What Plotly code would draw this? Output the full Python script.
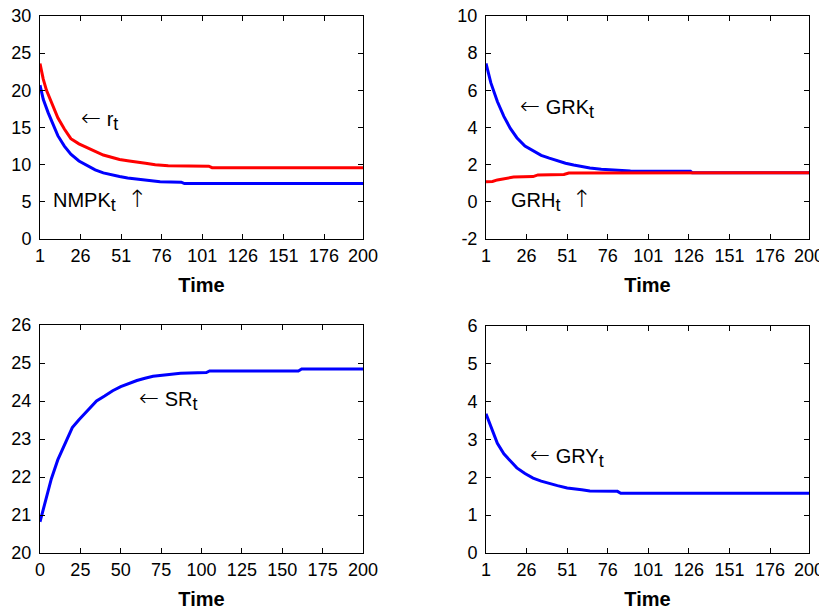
import plotly.graph_objects as go
from plotly.subplots import make_subplots

# ---- data ----
t_r = [1, 3, 5, 8, 12, 16, 20, 25, 30, 35, 40, 45, 50, 56, 61, 66, 72, 80, 105, 107, 200]
r_t = [23.6, 21.5, 20.0, 18.4, 16.3, 14.8, 13.5, 12.8, 12.3, 11.8, 11.3, 11.0, 10.7, 10.5, 10.3, 10.2, 10.0, 9.85, 9.8, 9.6, 9.6]

t_nmpk = [1, 3, 6, 9, 12, 16, 20, 25, 30, 35, 40, 45, 50, 55, 60, 65, 70, 75, 88, 90, 200]
nmpk_t = [20.7, 18.8, 17.0, 15.4, 13.9, 12.5, 11.4, 10.5, 9.9, 9.3, 8.9, 8.6, 8.4, 8.2, 8.05, 7.9, 7.8, 7.7, 7.65, 7.45, 7.45]

t_grk = [1, 4, 8, 12, 16, 20, 25, 30, 35, 40, 45, 50, 55, 60, 65, 72, 80, 90, 127, 128, 200]
grk_t = [7.45, 6.4, 5.4, 4.6, 3.95, 3.45, 3.0, 2.75, 2.5, 2.35, 2.2, 2.08, 1.98, 1.9, 1.82, 1.75, 1.72, 1.66, 1.64, 1.57, 1.57]

t_grh = [1, 5, 8, 14, 18, 30, 33, 49, 52, 200]
grh_t = [1.08, 1.1, 1.18, 1.25, 1.33, 1.36, 1.45, 1.47, 1.55, 1.57]

t_sr = [0, 3, 7, 11, 15, 18, 20, 24, 30, 35, 40, 45, 50, 55, 60, 65, 70, 80, 87, 103, 105, 160, 162, 200]
sr_t = [20.82, 21.3, 21.95, 22.45, 22.85, 23.15, 23.3, 23.5, 23.78, 24.0, 24.13, 24.27, 24.38, 24.47, 24.54, 24.6, 24.65, 24.7, 24.73, 24.75, 24.79, 24.79, 24.84, 24.84]

t_gry = [1, 4, 7, 8, 12, 16, 20, 25, 30, 35, 40, 45, 51, 56, 60, 65, 82, 84, 200]
gry_t = [3.68, 3.35, 3.05, 2.9, 2.62, 2.42, 2.25, 2.1, 1.98, 1.9, 1.83, 1.78, 1.72, 1.7, 1.67, 1.64, 1.63, 1.58, 1.58]

ticks_t1 = [1, 26, 51, 76, 101, 126, 151, 176, 200]
ticks_t0 = [0, 25, 50, 75, 100, 125, 150, 175, 200]
yticks_a = [0, 5, 10, 15, 20, 25, 30]
yticks_b = [-2, 0, 2, 4, 6, 8, 10]
yticks_c = [20, 21, 22, 23, 24, 25, 26]
yticks_d = [0, 1, 2, 3, 4, 5, 6]

BLUE = "#0000ff"
RED = "#ff0000"
FONT = "Liberation Sans, Arial, Helvetica, sans-serif"

fig = make_subplots(rows=2, cols=2)

fig.add_trace(go.Scatter(x=t_nmpk, y=nmpk_t, mode="lines", line=dict(color=BLUE, width=3)), row=1, col=1)
fig.add_trace(go.Scatter(x=t_r, y=r_t, mode="lines", line=dict(color=RED, width=3)), row=1, col=1)
fig.add_trace(go.Scatter(x=t_grk, y=grk_t, mode="lines", line=dict(color=BLUE, width=3)), row=1, col=2)
fig.add_trace(go.Scatter(x=t_grh, y=grh_t, mode="lines", line=dict(color=RED, width=3)), row=1, col=2)
fig.add_trace(go.Scatter(x=t_sr, y=sr_t, mode="lines", line=dict(color=BLUE, width=3)), row=2, col=1)
fig.add_trace(go.Scatter(x=t_gry, y=gry_t, mode="lines", line=dict(color=BLUE, width=3)), row=2, col=2)

# the page adds an 8px body margin, so domains are shifted by that offset
OFF = 8
W, H = 827, 613
def dx(a, b):
    return [(a - OFF) / W, (b - OFF) / W]
def dy(top, bottom):
    return [1 - (bottom - OFF) / H, 1 - (top - OFF) / H]

common = dict(showline=True, linecolor="black", linewidth=1, mirror="ticks",
              ticks="inside", ticklen=5, tickcolor="black", showgrid=False,
              zeroline=False, automargin=False, ticklabeloverflow="allow",
              tickfont=dict(family=FONT, size=18, color="black"))

xtitle = dict(text="<b>Time</b>", font=dict(family=FONT, size=20, color="black"), standoff=13)

def ax_y(dom, rng, vals):
    return dict(domain=dom, range=rng, tickvals=vals, ticktext=[str(v) for v in vals],
                ticklabelstandoff=4, **common)

def ax_x(dom, rng, vals):
    return dict(domain=dom, range=rng, tickvals=vals, ticktext=[str(v) for v in vals],
                title=xtitle, **common)

fig.update_layout(
    xaxis=ax_x(dx(40, 363), [1, 200], ticks_t1),
    yaxis=ax_y(dy(16, 239), [0, 30], yticks_a),
    xaxis2=ax_x(dx(486, 809), [1, 200], ticks_t1),
    yaxis2=ax_y(dy(16, 239), [-2, 10], yticks_b),
    xaxis3=ax_x(dx(40, 363), [0, 200], ticks_t0),
    yaxis3=ax_y(dy(325, 553), [20, 26], yticks_c),
    xaxis4=ax_x(dx(486, 809), [1, 200], ticks_t1),
    yaxis4=ax_y(dy(326, 553), [0, 6], yticks_d),
    width=W, height=H, margin=dict(l=0, r=0, t=0, b=0),
    paper_bgcolor="white", plot_bgcolor="white", showlegend=False,
    font=dict(family=FONT, size=18, color="black"),
)

ARR = "font-family:DejaVu Sans;font-weight:200;font-size:24px"
def sub(s):
    return "<sub><span style='font-size:18px'>" + s + "</span></sub>"
LEFT = "<span style='" + ARR + "'>\u2190</span> "
UP = "<span style='" + ARR + "'>\u2191</span>"

afont = dict(family=FONT, size=20, color="black")
annots = [
    ("x", "y", 25, 16.2, LEFT + "r" + sub("t")),
    ("x", "y", 7.8, 5.3, "NMPK" + sub("t") + "  " + UP),
    ("x2", "y2", 20.7, 5.1, LEFT + "GRK" + sub("t")),
    ("x2", "y2", 15.2, 0.12, "GRH" + sub("t") + "  " + UP),
    ("x3", "y3", 60, 24.05, LEFT + "SR" + sub("t")),
    ("x4", "y4", 26.9, 2.57, LEFT + "GRY" + sub("t")),
]
for xr, yr, xv, yv, txt in annots:
    fig.add_annotation(xref=xr, yref=yr, x=xv, y=yv, text=txt, showarrow=False,
                       xanchor="left", yanchor="middle", font=afont)

fig.write_html("out.html")
